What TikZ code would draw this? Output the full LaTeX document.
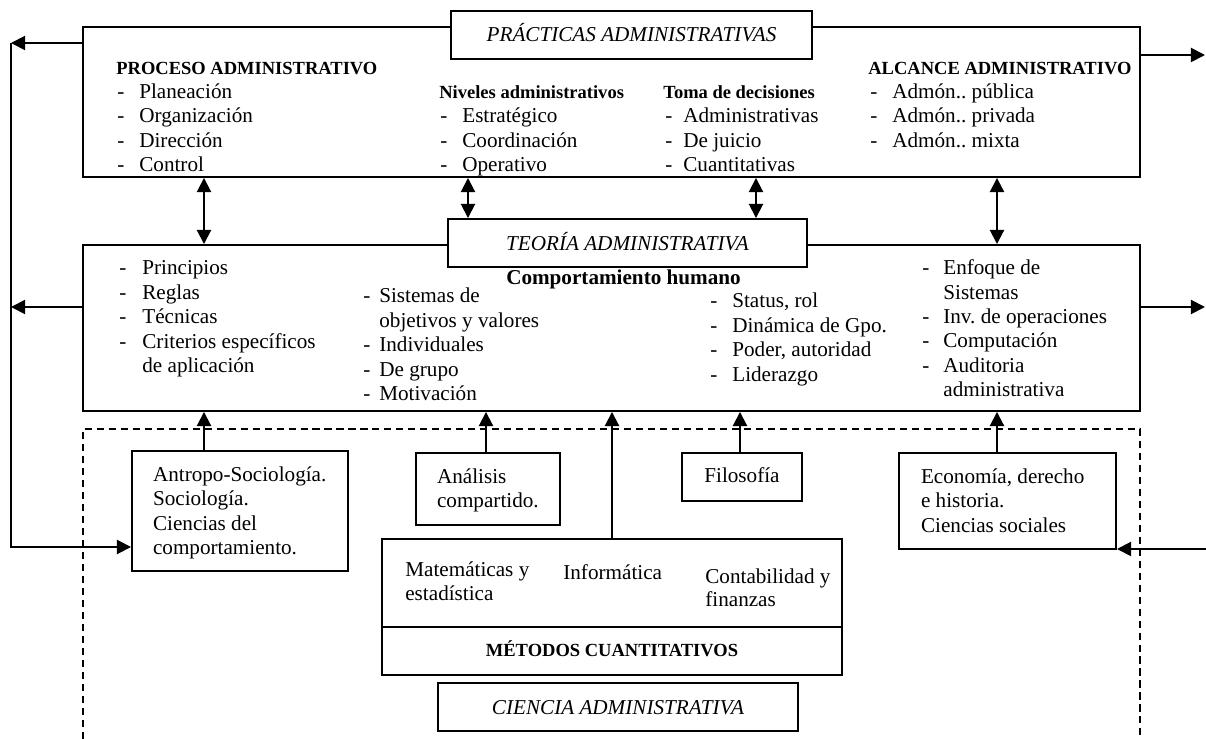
\documentclass[tikz,border=0pt]{standalone}
\usepackage{fontspec}
\setmainfont{Liberation Serif}
\usetikzlibrary{arrows.meta,fit}
\newlength\pxu \setlength\pxu{0.5672pt}
\newcommand\dsh[1]{\makebox[#1\pxu][l]{-}}
\frenchspacing
\begin{document}
\begin{tikzpicture}[x=0.5672pt,y=-0.5672pt,
  boxst/.style={draw,line width=1.1pt,inner sep=0pt,fill=white},
  txt/.style={anchor=base west,inner sep=0pt,font=\fontsize{12}{13.8}\selectfont},
  hd/.style={anchor=base west,inner sep=0pt,font=\fontsize{10.5}{12}\selectfont\bfseries},
  ttl/.style={anchor=base,inner sep=0pt,font=\fontsize{12}{13.8}\selectfont\itshape},
  bcen/.style={anchor=base,inner sep=0pt,font=\fontsize{12}{13.8}\selectfont\bfseries},
  bsmall/.style={anchor=base,inner sep=0pt,font=\fontsize{10.5}{12}\selectfont\bfseries},
  cen/.style={anchor=base,inner sep=0pt,font=\fontsize{12}{13.8}\selectfont},
  conn/.style={line width=1.1pt},
  arr/.style={conn,-{Triangle[length=8pt,width=8pt]}},
  dbl/.style={conn,{Triangle[length=8pt,width=8pt]}-{Triangle[length=8pt,width=8pt]}},
  dashedframe/.style={line width=0.8pt,dash pattern=on 4pt off 2.8pt}
]
\useasboundingbox (0,0) rectangle (1206,739);

% dashed frame
\coordinate (D1) at (83,739);
\coordinate (D2) at (83,429);
\coordinate (D3) at (1140,429);
\coordinate (D4) at (1140,739);
\draw[dashedframe] (D1) -- (D2) -- (D3) -- (D4);

% main boxes
\node[boxst, fit={(83,27) (1140,177)}] (top) {};
\node[boxst, fit={(451,11) (812,59)}] (prac) {};
\node[boxst, fit={(83,245) (1140,411)}] (mid) {};
\node[boxst, fit={(448,219) (807,267)}] (teo) {};
\node[boxst, fit={(132,451) (348,571)}] (antro) {};
\node[boxst, fit={(416,453) (560,525)}] (anal) {};
\node[boxst, fit={(682,453) (802,501)}] (filo) {};
\node[boxst, fit={(899,453) (1116,549)}] (econ) {};
\node[boxst, fit={(382,539) (842,627)}] (metA) {};
\node[boxst, fit={(382,627) (842,675)}] (metB) {};
\node[boxst, fit={(438,683) (798,731)}] (cien) {};

% titles
\node[ttl] (tprac) at (631.5,41.7) {PRÁCTICAS ADMINISTRATIVAS};
\node[ttl] (tteo) at (627.5,250.7) {TEORÍA ADMINISTRATIVA};
\node[ttl] (tcien) at (618,714.3) {CIENCIA ADMINISTRATIVA};

% top box columns
\node[hd] (h1) at (116,74.1) {PROCESO ADMINISTRATIVO};
\node[txt] (a1) at (117,98.5) {\dsh{22}Planeación};
\node[txt] (a2) at (117,122.9) {\dsh{22}Organización};
\node[txt] (a3) at (117,147.3) {\dsh{22}Dirección};
\node[txt] (a4) at (117,171.7) {\dsh{22}Control};

\node[hd] (h2) at (439,98.5) {Niveles administrativos};
\node[txt] (b1) at (440,122.9) {\dsh{22}Estratégico};
\node[txt] (b2) at (440,147.3) {\dsh{22}Coordinación};
\node[txt] (b3) at (440,171.7) {\dsh{22}Operativo};

\node[hd] (h3) at (663,98.5) {Toma de decisiones};
\node[txt] (c1) at (665,122.9) {\dsh{18}Administrativas};
\node[txt] (c2) at (665,147.3) {\dsh{18}De juicio};
\node[txt] (c3) at (665,171.7) {\dsh{18}Cuantitativas};

\node[hd] (h4) at (868,74.1) {ALCANCE ADMINISTRATIVO};
\node[txt] (d1) at (870,98.5) {\dsh{22}Admón.. pública};
\node[txt] (d2) at (870,122.9) {\dsh{22}Admón.. privada};
\node[txt] (d3) at (870,147.3) {\dsh{22}Admón.. mixta};

% middle box columns
\node[txt] (e1) at (119,275) {\dsh{23}Principios};
\node[txt] (e2) at (119,299.4) {\dsh{23}Reglas};
\node[txt] (e3) at (119,323.8) {\dsh{23}Técnicas};
\node[txt] (e4) at (119,348.2) {\dsh{23}Criterios específicos};
\node[txt] (e5) at (142,372.6) {de aplicación};

\node[bcen] (comp) at (623.5,285) {Comportamiento humano};

\node[txt] (f1) at (363,303) {\dsh{16}Sistemas de};
\node[txt] (f2) at (379,327.5) {objetivos y valores};
\node[txt] (f3) at (363,352) {\dsh{16}Individuales};
\node[txt] (f4) at (363,376.5) {\dsh{16}De grupo};
\node[txt] (f5) at (363,401) {\dsh{16}Motivación};

\node[txt] (g1) at (710,308) {\dsh{22}Status, rol};
\node[txt] (g2) at (710,332.5) {\dsh{22}Dinámica de Gpo.};
\node[txt] (g3) at (710,357) {\dsh{22}Poder, autoridad};
\node[txt] (g4) at (710,381.5) {\dsh{22}Liderazgo};

\node[txt] (k1) at (922,275) {\dsh{21}Enfoque de};
\node[txt] (k2) at (943,299.3) {Sistemas};
\node[txt] (k3) at (922,323.6) {\dsh{21}Inv. de operaciones};
\node[txt] (k4) at (922,348) {\dsh{21}Computación};
\node[txt] (k5) at (922,372.3) {\dsh{21}Auditoria};
\node[txt] (k6) at (943,396.6) {administrativa};

% bottom boxes text
\node[txt] (m1) at (152.7,481.7) {Antropo-Sociología.};
\node[txt] (m2) at (152.7,506) {Sociología.};
\node[txt] (m3) at (152.7,530.5) {Ciencias del};
\node[txt] (m4) at (152.7,555) {comportamiento.};

\node[txt] (n1) at (436.7,483.3) {Análisis};
\node[txt] (n2) at (436.7,508) {compartido.};

\node[cen] (o1) at (742,483) {Filosofía};

\node[txt] (q1) at (920.7,483.3) {Economía, derecho};
\node[txt] (q2) at (920.7,508) {e historia.};
\node[txt] (q3) at (920.7,533) {Ciencias sociales};

\node[txt] (r1) at (405,576.7) {Matemáticas y};
\node[txt] (r2) at (405,600.7) {estadística};
\node[txt] (r3) at (563,580) {Informática};
\node[txt] (r4) at (705,583.3) {Contabilidad y};
\node[txt] (r5) at (705,607) {finanzas};
\node[bsmall] (r6) at (612,656.7) {MÉTODOS CUANTITATIVOS};

% double arrows between top and middle
\draw[dbl] (204,0 |- top.south) -- (204,0 |- mid.north);
\draw[dbl] (468,0 |- top.south) -- (468,0 |- teo.north);
\draw[dbl] (756,0 |- top.south) -- (756,0 |- teo.north);
\draw[dbl] (997,0 |- top.south) -- (997,0 |- mid.north);

% upward arrows into middle box
\draw[arr] (204,0 |- antro.north) -- (204,0 |- mid.south);
\draw[arr] (486,0 |- anal.north) -- (486,0 |- mid.south);
\draw[arr] (metA.north) -- (metA.north |- mid.south);
\draw[arr] (740,0 |- filo.north) -- (740,0 |- mid.south);
\draw[arr] (997,0 |- econ.north) -- (997,0 |- mid.south);

% left feedback
\coordinate (L1) at (11,43);
\coordinate (L2) at (11,307);
\coordinate (L3) at (11,547);
\draw[arr] (top.west |- L1) -- (L1);
\draw[arr] (mid.west |- L2) -- (L2);
\draw[arr] (L1) -- (L3) -- (antro.west |- L3);

% right feedback
\coordinate (R1) at (1205,55);
\coordinate (R2) at (1205,307);
\coordinate (R3) at (1206,549);
\draw[arr] (top.east |- R1) -- (R1);
\draw[arr] (mid.east |- R2) -- (R2);
\draw[arr] (R3) -- (econ.east |- R3);
\end{tikzpicture}
\end{document}
